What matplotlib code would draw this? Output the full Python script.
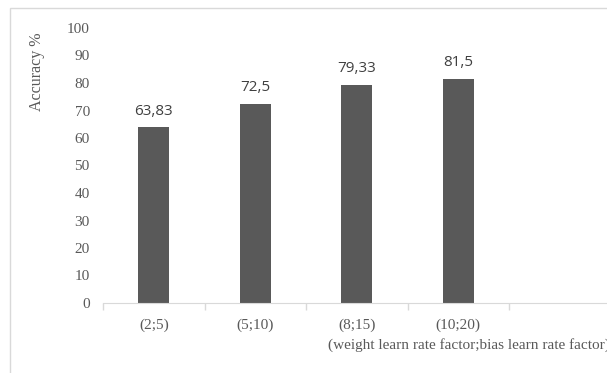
import matplotlib.pyplot as plt
from matplotlib.patches import Rectangle

# accuracy per (weight lr factor; bias lr factor) setting
categories = ["(2;5)", "(5;10)", "(8;15)", "(10;20)"]
accuracy = [63.83, 72.5, 79.33, 81.5]
value_labels = ["63,83", "72,5", "79,33", "81,5"]
y_ticks = [0, 10, 20, 30, 40, 50, 60, 70, 80, 90, 100]
n_slots = 5  # one empty slot on the right

W, H = 607, 373
fig = plt.figure(figsize=(W / 100, H / 100), dpi=100)

# light grey chart frame (top and left edges only visible)
fig.patches.append(Rectangle((10 / W, -0.1), 1.2, (H - 8) / H + 0.1,
                             transform=fig.transFigure, fill=False,
                             edgecolor="#d9d9d9", linewidth=1.0))

x0, x1 = 103, 610.5
ax = fig.add_axes([x0 / W, 70 / H, (x1 - x0) / W, 275 / H])

serif = "Liberation Serif"
grey = "#595959"

xs = list(range(len(categories)))
ax.bar(xs, accuracy, width=0.31, color="#595959", zorder=2)
for x, v, lab in zip(xs, accuracy, value_labels):
    ax.annotate(lab, (x, v), xytext=(0, 11.5), textcoords="offset points",
                ha="center", va="center", fontsize=11, color="#404040",
                family="Open Sans")

ax.set_xlim(-0.5, n_slots - 0.5)
ax.set_ylim(0, 100)

# slot boundaries get the tick marks, centres carry the labels
ax.set_xticks([i - 0.5 for i in range(n_slots + 1)])
ax.set_xticklabels([])
ax.set_xticks(xs, minor=True)
ax.set_xticklabels(categories, minor=True, family=serif, fontsize=11, color=grey)
ax.tick_params(axis="x", which="major", length=5, color="#d9d9d9", width=1)
ax.tick_params(axis="x", which="minor", length=0, pad=11)

ax.set_yticks(y_ticks)
ax.set_yticklabels([str(t) for t in y_ticks], family=serif, fontsize=11, color=grey)
ax.tick_params(axis="y", length=0, pad=9.5)

for s in ["top", "right", "left"]:
    ax.spines[s].set_visible(False)
ax.spines["bottom"].set_color("#d9d9d9")

fig.text(37 / W, 1 - 72 / H, "Accuracy %", rotation=90, ha="center", va="center",
         family=serif, fontsize=11.5, color=grey)
fig.text(328 / W, 1 - 345 / H, "(weight learn rate factor;bias learn rate factor)",
         ha="left", va="center", family=serif, fontsize=11, color=grey)

fig.savefig("out.png", dpi=100)
